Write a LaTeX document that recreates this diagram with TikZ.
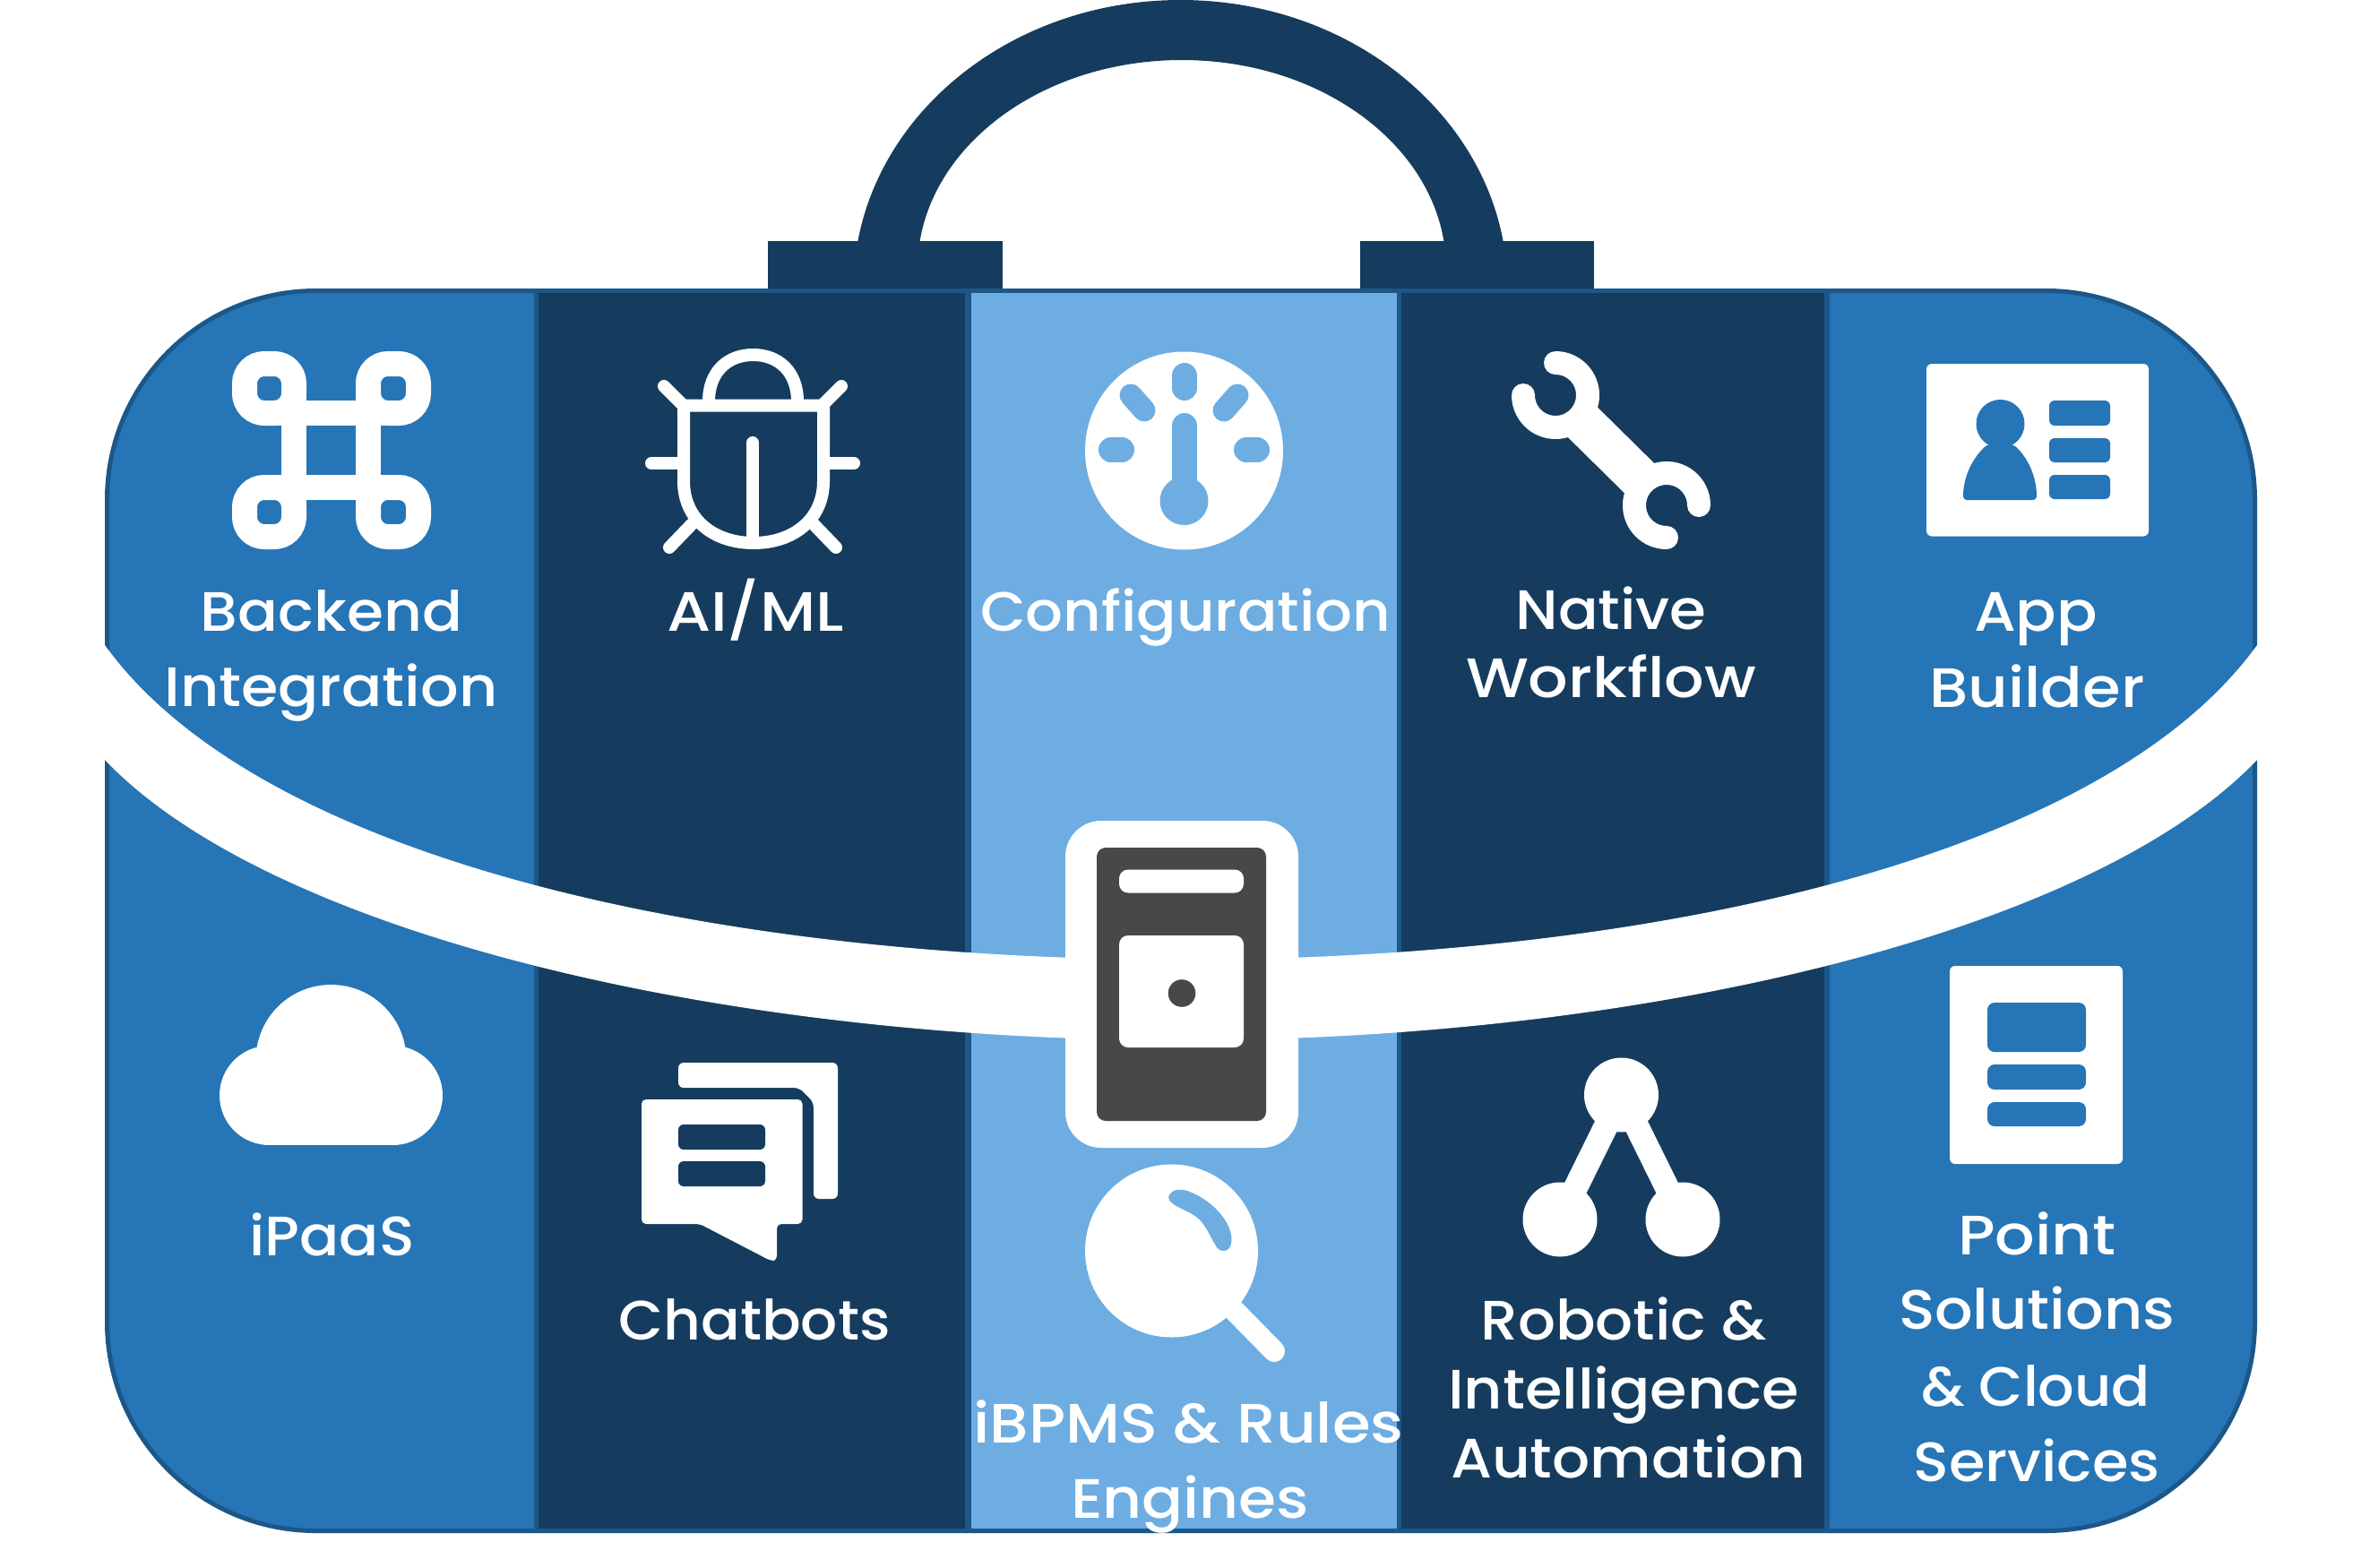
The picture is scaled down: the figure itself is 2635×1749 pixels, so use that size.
\documentclass[tikz,border=0pt]{standalone}
\usepackage{graphicx}
\usepackage{fontspec}
\setmainfont{Poppins Medium}
\definecolor{navy}{HTML}{153C5E}
\definecolor{midblue}{HTML}{2675B6}
\definecolor{skyblue}{HTML}{6DADE2}
\definecolor{edgeblue}{HTML}{1B5788}
\definecolor{servergrey}{HTML}{484848}
\newcommand\lbl[5]{\node[lab] (#1) at (#2,#3) {\resizebox{#4pt}{\height}{#5}};}
\newcommand\strapshape{%
  \fill[white] (100,696) -- (117,720) .. controls (290,960) and (800,1071) .. (1318,1071)
  -- (1318,1161) .. controls (800,1161) and (300,1040) .. (117,848) -- (100,830) -- cycle;}
\begin{document}
\begin{tikzpicture}[x=1pt,y=-1pt,
  lab/.style={anchor=base,inner sep=0pt,outer sep=0pt,text=white,font=\fontsize{62}{70}\selectfont},
  loopline/.style={draw=white,line width=28pt,rounded corners=22pt},
  crossline/.style={draw=white,line width=28pt},
  bugline/.style={draw=white,line width=14pt},
  bugleg/.style={draw=white,line width=14pt,line cap=round},
  pill/.style={draw=skyblue,line width=28pt,line cap=round},
  wrenchjaw/.style={draw=white,line width=26pt,line cap=round},
  cardhole/.style={rounded corners=6pt}]
\useasboundingbox (0,0) rectangle (2635,1749);

% handle
\begin{scope}
  \clip (800,0) rectangle (1850,300);
  \fill[navy,even odd rule] (1317.5,322) ellipse [x radius=365,y radius=322]
    (1319,300) ellipse [x radius=295,y radius=233];
\end{scope}
\fill[navy] (857,269) rectangle (1119,325);
\fill[navy] (1518,269) rectangle (1779,325);

% case body
\draw[draw=edgeblue,fill=midblue,line width=5pt,rounded corners=233pt] (119.5,324.5) rectangle (2516.5,1708.5);
\fill[edgeblue] (596,322) rectangle (2042,1711);
\fill[navy] (601,327) rectangle (1077,1706);
\fill[skyblue] (1084,327) rectangle (1559,1706);
\fill[navy] (1564,327) rectangle (2036,1706);

% strap
\strapshape
\begin{scope}[xshift=2636pt,xscale=-1]
\strapshape
\end{scope}

% command icon
\draw[loopline] (273,406) rectangle (328,461);
\draw[loopline] (411,406) rectangle (467,461);
\draw[loopline] (273,544) rectangle (328,599);
\draw[loopline] (411,544) rectangle (467,599);
\draw[crossline] (295,461) -- (445,461);
\draw[crossline] (295,544) -- (445,544);
\draw[crossline] (328,430) -- (328,575);
\draw[crossline] (411,430) -- (411,575);

% bug icon
\draw[bugline] (763,452.5) -- (919,452.5) -- (919,537) .. controls (919,580) and (885,606) .. (841,606) .. controls (797,606) and (763,580) .. (763,537) -- cycle;
\draw[bugline] (791,448) .. controls (791,415) and (812,396) .. (840.5,396) .. controls (869,396) and (890,415) .. (890,448);
\draw[bugleg] (840,494) -- (840,600);
\draw[bugleg] (727,517) -- (760,517);
\draw[bugleg] (953,517) -- (922,517);
\draw[bugleg] (741,431) -- (762,452);
\draw[bugleg] (939,431) -- (918,452);
\draw[bugleg] (747,611) -- (772,585);
\draw[bugleg] (933,611) -- (908,585);

% gauge icon
\fill[white] (1321.5,503) circle [radius=110.5];
\draw[pill] (1322,419) -- (1322,433);
\draw[pill] (1240,502) -- (1252,502);
\draw[pill] (1391,502) -- (1403,502);
\draw[pill,line width=25pt] (1262,441) -- (1277,458);
\draw[pill,line width=25pt] (1381,441) -- (1366,458);
\draw[pill] (1322,475) -- (1322,555);
\fill[skyblue] (1321.5,559) circle [radius=27];

% wrench icon
\draw[wrenchjaw] plot[domain=90:-180,samples=60] ({1736+36*cos(\x)},{441-36*sin(\x)});
\draw[wrenchjaw] plot[domain=0:270,samples=60] ({1860+36*cos(\x)},{564-36*sin(\x)});
\draw[draw=white,line width=47pt] (1757,462) -- (1839,543);

% contact card icon
\fill[white,rounded corners=6pt] (2150,406) rectangle (2398,598.5);
\fill[midblue] (2232.5,473) ellipse [x radius=27,y radius=27];
\fill[midblue,rounded corners=4pt] (2191,558) .. controls (2191,530) and (2203,510) .. (2218,496) -- (2247,496) .. controls (2262,510) and (2273,530) .. (2273,558) -- cycle;
\fill[midblue,cardhole] (2287,447) rectangle (2355,475);
\fill[midblue,cardhole] (2287,489) rectangle (2355,516);
\fill[midblue,cardhole] (2287,530) rectangle (2355,557);

% cloud icon
\fill[white] (369.5,1183) circle [radius=84];
\fill[white] (300.5,1222.5) circle [radius=55.5];
\fill[white] (438.5,1222.5) circle [radius=55.5];
\fill[white] (300.5,1167) rectangle (438.5,1278);

% chat icon
\fill[white,rounded corners=6pt] (757,1214) -- (757,1186) -- (935,1186) -- (935,1338) -- (908,1338) -- (908,1230) -- (892,1214) -- cycle;
\fill[white,rounded corners=5pt] (716,1227) -- (895.5,1227) -- (895.5,1366) -- (867,1366) -- (867,1407) -- (860,1407) -- (781,1366) -- (716,1366) -- cycle;
\fill[navy,cardhole] (757,1255) rectangle (854,1283);
\fill[navy,cardhole] (757,1296) rectangle (854,1324);

% server icon
\fill[white,rounded corners=40pt] (1189,916) rectangle (1449,1281);
\fill[servergrey,rounded corners=10pt] (1224,946) rectangle (1413,1251);
\fill[white,rounded corners=10pt] (1249,970.5) rectangle (1388,996.5);
\fill[white,rounded corners=10pt] (1249,1044) rectangle (1388,1169);
\fill[servergrey] (1319,1108.5) circle [radius=15.3];

% magnifier icon
\fill[white] (1307.5,1396) circle [radius=96.5];
\draw[draw=white,line width=24pt,line cap=round] (1375,1460) -- (1422,1508);
\fill[skyblue] (1304,1336) .. controls (1307,1326) and (1320,1326) .. (1330,1331) .. controls (1356,1342) and (1378,1368) .. (1374,1388) .. controls (1372,1398) and (1362,1398) .. (1358,1392) .. controls (1350,1380) and (1346,1366) .. (1335,1358) .. controls (1325,1350) and (1305,1346) .. (1304,1336) -- cycle;

% tree icon
\draw[draw=white,line width=27pt] (1741,1361) -- (1809.5,1222) -- (1878,1361);
\fill[white] (1809.5,1222) circle [radius=41.5];
\fill[white] (1741,1361) circle [radius=41.5];
\fill[white] (1878,1361) circle [radius=41.5];

% document icon
\fill[white,rounded corners=6pt] (2176,1078) rectangle (2369,1299);
\fill[midblue,rounded corners=8pt] (2218,1119) rectangle (2328,1174);
\fill[midblue,rounded corners=8pt] (2218,1188) rectangle (2328,1216);
\fill[midblue,rounded corners=8pt] (2218,1230) rectangle (2328,1257);

% labels
\lbl{backend}{370}{704}{292}{Backend}
\lbl{integration}{369.5}{788}{372}{Integration}
\lbl{aiml}{843}{704}{198}{AI/ML}
\lbl{config}{1323}{704}{458}{Configuration}
\lbl{native}{1798}{702}{213}{Native}
\lbl{workflow}{1798}{778}{324}{Workflow}
\lbl{app}{2272}{704}{138}{App}
\lbl{builder}{2273.5}{789}{240}{Builder}
\lbl{ipaas}{370.5}{1401}{184}{iPaaS}
\lbl{chatbots}{842}{1495}{303}{Chatbots}
\lbl{ibpms}{1326.5}{1610}{480}{iBPMS \& Rules}
\lbl{engines}{1328}{1694}{266}{Engines}
\lbl{robotic}{1812}{1495}{319}{Robotic \&}
\lbl{intelligence}{1812}{1572}{392}{Intelligence}
\lbl{automation}{1817}{1649}{396}{Automation}
\lbl{point}{2273}{1400}{176}{Point}
\lbl{solutions}{2273}{1483}{308}{Solutions}
\lbl{cloud}{2272}{1569}{256}{\& Cloud}
\lbl{services}{2273}{1653}{275}{Services}
\end{tikzpicture}
\end{document}
